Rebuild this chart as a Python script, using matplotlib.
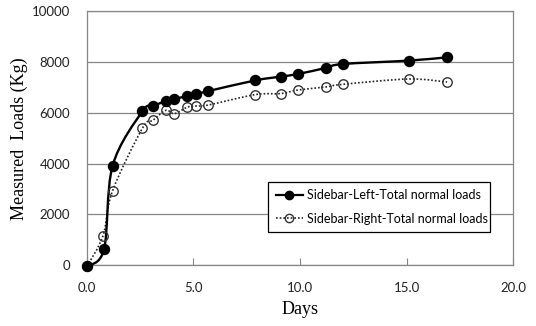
import matplotlib
matplotlib.use("Agg")
import matplotlib.pyplot as plt
from matplotlib.path import Path
from matplotlib.patches import PathPatch
from matplotlib.lines import Line2D

# readings
days_left = [0.0, 0.8, 1.2, 2.6, 3.1, 3.7, 4.1, 4.7, 5.1, 5.7, 7.9, 9.1, 9.9, 11.2, 12.0, 15.1, 16.9]
loads_left = [-50, 620, 3910, 6060, 6260, 6470, 6540, 6670, 6740, 6860, 7280, 7430, 7530, 7770, 7925, 8060, 8190]

days_right = [0.0, 0.75, 1.2, 2.6, 3.1, 3.7, 4.1, 4.7, 5.1, 5.7, 7.9, 9.1, 9.9, 11.2, 12.0, 15.1, 16.9]
loads_right = [-50, 1150, 2925, 5390, 5710, 6100, 5970, 6220, 6270, 6310, 6720, 6760, 6900, 7020, 7125, 7335, 7215]

label_left = "Sidebar-Left-Total normal loads"
label_right = "Sidebar-Right-Total normal loads"

x_ticks = [0, 5, 10, 15, 20]
y_ticks = [0, 2000, 4000, 6000, 8000, 10000]

grey = "#868686"
tick_font = "Lato"
label_font = "Liberation Serif"


def smooth_path(xs, ys):
    # excel style smoothed line: cubic bezier segments, catmull-rom tangents
    pts = list(zip(xs, ys))
    verts = [pts[0]]
    codes = [Path.MOVETO]
    n = len(pts)
    for i in range(n - 1):
        p0 = pts[i - 1] if i > 0 else pts[i]
        p1 = pts[i]
        p2 = pts[i + 1]
        p3 = pts[i + 2] if i + 2 < n else pts[i + 1]
        c1 = (p1[0] + (p2[0] - p0[0]) / 6, p1[1] + (p2[1] - p0[1]) / 6)
        c2 = (p2[0] - (p3[0] - p1[0]) / 6, p2[1] - (p3[1] - p1[1]) / 6)
        verts += [c1, c2, p2]
        codes += [Path.CURVE4] * 3
    return Path(verts, codes)


fig = plt.figure(figsize=(5.36, 3.26), dpi=100)
ax = fig.add_axes([0.1623, 0.187, 0.7948, 0.778])

ax.set_xlim(0, 20)
ax.set_ylim(0, 10000)

ax.grid(axis="y", color=grey, linewidth=0.9)
ax.set_axisbelow(True)
for sp in ax.spines.values():
    sp.set_color(grey)
    sp.set_linewidth(0.9)

ax.add_patch(PathPatch(smooth_path(days_right, loads_right), facecolor="none",
                       edgecolor="#222222", linewidth=1.2, linestyle=(0, (1, 1.2)),
                       clip_on=False, zorder=3))
ax.add_patch(PathPatch(smooth_path(days_left, loads_left), facecolor="none",
                       edgecolor="black", linewidth=1.7, clip_on=False, zorder=4))

ax.plot(days_right, loads_right, linestyle="none", marker="o", markersize=6.8,
        markerfacecolor="none", markeredgecolor="#333333", markeredgewidth=1.0,
        clip_on=False, zorder=5)
ax.plot(days_left, loads_left, linestyle="none", marker="o", markersize=7.2,
        color="black", clip_on=False, zorder=6)

ax.set_xticks(x_ticks)
ax.set_xticklabels(["%.1f" % v for v in x_ticks])
ax.set_yticks(y_ticks)
ax.set_yticklabels([str(v) for v in y_ticks])
ax.tick_params(axis="x", direction="in", length=5, color=grey, pad=12)
ax.tick_params(axis="y", length=0, pad=12)
for lbl in ax.get_xticklabels() + ax.get_yticklabels():
    lbl.set_fontfamily(tick_font)
    lbl.set_fontsize(9.5)
    lbl.set_color("#222222")

ax.set_xlabel("Days", fontfamily=label_font, fontsize=13, labelpad=5)
ax.set_ylabel("Measured  Loads (Kg)", fontfamily=label_font, fontsize=13, labelpad=3)

handles = [
    Line2D([], [], color="black", linewidth=1.6, marker="o", markersize=6),
    Line2D([], [], color="#222222", linewidth=1.2, linestyle=(0, (1, 1.2)), marker="o",
           markersize=6, markerfacecolor="none", markeredgecolor="#333333"),
]
leg = ax.legend(handles, [label_left, label_right], loc="lower left",
                bbox_to_anchor=(0.425, 0.13, 0.521, 0.2), mode="expand",
                borderaxespad=0, fancybox=False, framealpha=1, edgecolor="black",
                handlelength=2.2, handletextpad=0.3, borderpad=0.6, labelspacing=0.9,
                prop={"family": tick_font, "size": 9})
leg.get_frame().set_linewidth(0.9)

plt.savefig("out.png", dpi=100)
